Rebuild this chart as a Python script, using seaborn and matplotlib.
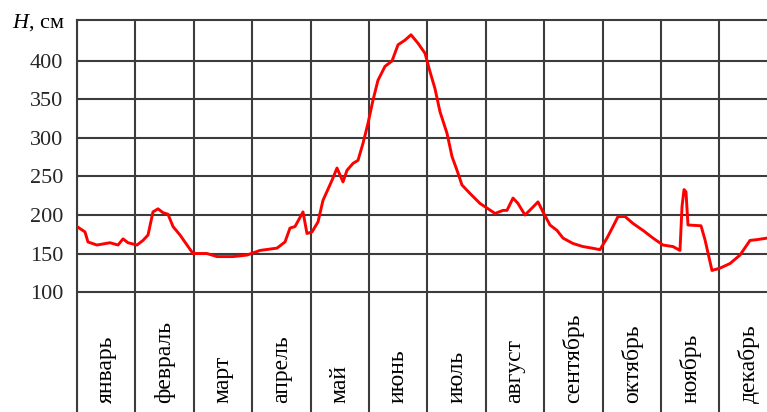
import matplotlib
matplotlib.use("Agg")
import matplotlib.pyplot as plt
import seaborn as sns
import pandas as pd

# ---- data ----
months = ["январь", "февраль", "март", "апрель", "май", "июнь",
          "июль", "август", "сентябрь", "октябрь", "ноябрь", "декабрь"]
yticks = [100, 150, 200, 250, 300, 350, 400]

# time in months from 1 January
t = [0.00, 0.137, 0.188, 0.342, 0.565, 0.702, 0.788, 0.873, 1.027, 1.130,
     1.216, 1.301, 1.387, 1.473, 1.558, 1.644, 1.764, 1.884, 1.986, 2.226,
     2.397, 2.671, 2.911, 3.134, 3.425, 3.562, 3.647, 3.733, 3.870, 3.938,
     4.024, 4.127, 4.212, 4.366, 4.452, 4.555, 4.623, 4.726, 4.812, 4.897,
     4.983, 5.068, 5.154, 5.274, 5.394, 5.497, 5.616, 5.719, 5.839, 5.959,
     6.045, 6.130, 6.216, 6.336, 6.421, 6.507, 6.592, 6.729, 6.901, 7.021,
     7.158, 7.295, 7.363, 7.466, 7.551, 7.671, 7.791, 7.894, 7.979, 8.099,
     8.219, 8.322, 8.493, 8.664, 8.818, 8.955, 9.075, 9.178, 9.264, 9.384,
     9.521, 9.692, 9.863, 10.034, 10.205, 10.325, 10.360, 10.394, 10.428, 10.462,
     10.685, 10.753, 10.873, 11.010, 11.182, 11.353, 11.524, 11.644, 11.815]
# water level H, cm
h = [185, 178, 165, 161, 164, 161, 169, 164, 161, 167,
     174, 204, 208, 203, 201, 185, 174, 161, 150, 150,
     146, 146, 148, 154, 157, 165, 183, 185, 204, 176,
     178, 191, 219, 245, 261, 243, 258, 267, 271, 293,
     319, 349, 375, 393, 400, 421, 427, 434, 423, 410,
     386, 364, 334, 306, 276, 258, 239, 228, 215, 209,
     202, 206, 206, 222, 215, 200, 209, 217, 204, 187,
     180, 170, 163, 159, 157, 155, 170, 185, 198, 198,
     189, 180, 170, 161, 159, 154, 211, 233, 230, 187,
     186, 168, 128, 131, 137, 148, 167, 168, 170]

df = pd.DataFrame({"t": t, "H": h})

# ---- style ----
sns.set_theme(style="white")
plt.rcParams["font.family"] = ["Liberation Serif", "DejaVu Serif"]
plt.rcParams["mathtext.fontset"] = "custom"
plt.rcParams["mathtext.rm"] = "Liberation Serif"
plt.rcParams["mathtext.it"] = "Liberation Serif:italic"

W, Hpx = 767, 412
fig = plt.figure(figsize=(W / 100, Hpx / 100), dpi=100)
month_px = 58.4
ax = fig.add_axes([77 / W, 0, 12 * month_px / W, (Hpx - 20) / Hpx])

gridc = "#3c3c3c"
sns.lineplot(data=df, x="t", y="H", ax=ax, color="#ff0000", linewidth=2.1,
             estimator=None, sort=False, zorder=5)

ax.set_xlim(0, 12)
ax.set_ylim(-55.8, 453.2)
ax.set_xticks(range(13))
ax.set_xticklabels([])
ax.set_yticks(yticks)
ax.set_yticklabels([str(v) for v in yticks], fontsize=16)
ax.tick_params(axis="both", length=0)
ax.tick_params(axis="y", pad=10)
ax.grid(True, color=gridc, linewidth=1.5)
ax.set_xlabel("")
ax.set_ylabel("")

for side in ["top", "left"]:
    ax.spines[side].set_color(gridc)
    ax.spines[side].set_linewidth(1.5)
ax.spines["bottom"].set_visible(False)
ax.spines["right"].set_visible(False)

for i, m in enumerate(months):
    ax.text(i + 0.5, -44, m, rotation=90, ha="center", va="bottom",
            fontsize=17, color="black")

fig.text(65 / W, 1 - 28 / Hpx, r"$H$, см", ha="right", va="baseline",
         fontsize=16, color="black")

fig.savefig("out.png", dpi=100)
